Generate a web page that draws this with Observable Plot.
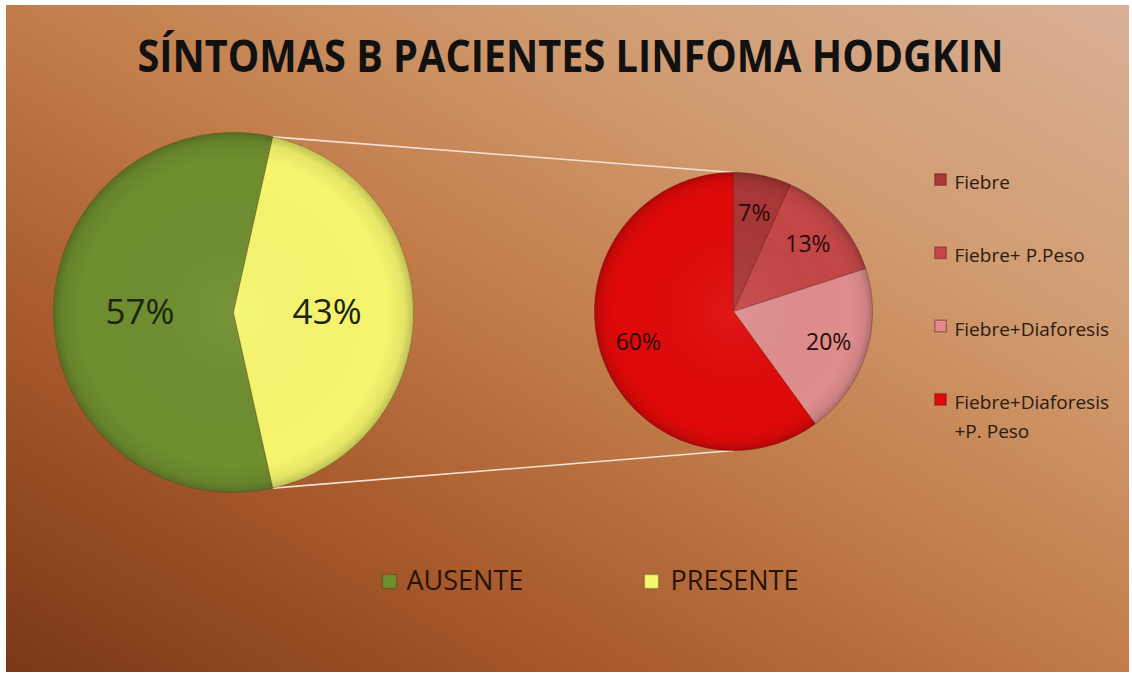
<!DOCTYPE html>
<html><head><meta charset="utf-8">
<script src="https://cdn.jsdelivr.net/npm/d3@7"></script>
<script src="https://cdn.jsdelivr.net/npm/@observablehq/plot@0.6"></script>
<style>
html,body{margin:0;padding:0;background:#fff;overflow:hidden;}
#frame{position:absolute;left:6px;top:5px;width:1123px;height:667px;
  background:linear-gradient(to top right,#7a3816 0%,#a4572a 25%,#c27c4a 50%,#d09a6e 72%,#d9b096 100%);}
#chart{position:absolute;left:0;top:0;}
</style></head><body>
<div id="frame"></div><div id="chart"></div>
<script>
// ---- data ----
const title = "SÍNTOMAS B PACIENTES LINFOMA HODGKIN";
const mainCategories = ["AUSENTE", "PRESENTE"];
const mainValues = [57, 43];
const mainColors = ["#6e8e2f", "#f6f66e"];
const subCategories = ["Fiebre", "Fiebre+ P.Peso", "Fiebre+Diaforesis", "Fiebre+Diaforesis\n+P. Peso"];
const subValues = [6.7, 13.3, 20, 60];
const subColors = ["#a93737", "#c44747", "#df8d8d", "#df0909"];

// ---- layout ----
const W = 1132, H = 675;
const L = {cx: 233, cy: 312, r: 180};
const R = {cx: 733, cy: 311, r: 139};
const FONT = "'Open Sans', 'Noto Sans', sans-serif";

const rad = a => a * Math.PI / 180;
const pt = (p, a, f = 1) => ({x: p.cx + p.r * f * Math.sin(rad(a)), y: p.cy - p.r * f * Math.cos(rad(a))});

function build(pie, cats, vals, cols, starts) {
  const total = d3.sum(vals);
  const slices = cats.map((c, i) => {
    const span = vals[i] / total * 360;
    return {key: c, value: vals[i], color: cols[i], a0: starts[i], a1: starts[i] + span};
  });
  const pts = [];
  for (const s of slices) {
    pts.push({key: s.key, color: s.color, x: pie.cx, y: pie.cy});
    const n = Math.max(2, Math.ceil(s.a1 - s.a0));
    for (let k = 0; k <= n; k++) {
      const p = pt(pie, s.a0 + (s.a1 - s.a0) * k / n);
      pts.push({key: s.key, color: s.color, ...p});
    }
    pts.push({key: s.key, color: s.color, x: pie.cx, y: pie.cy});
  }
  return {slices, pts};
}

// main pie: PRESENTE slice centered on the right (90°)
const mainTotal = d3.sum(mainValues);
const presSpan = mainValues[1] / mainTotal * 360;
const presStart = 90 - presSpan / 2;
const main = build(L, mainCategories, mainValues, mainColors, [presStart + presSpan, presStart]);

// sub pie: starts at top, clockwise
const subTotal = d3.sum(subValues);
const subStarts = subValues.map((v, i) => d3.sum(subValues.slice(0, i)) / subTotal * 360);
const sub = build(R, subCategories, subValues, subColors, subStarts);

// labels
const mainLabels = main.slices.map(s => ({text: Math.round(s.value) + "%", ...pt(L, (s.a0 + s.a1) / 2, 0.52)}));
const subLabels = sub.slices.map(s => ({text: Math.round(s.value) + "%", ...pt(R, (s.a0 + s.a1) / 2, 0.72)}));

// connectors
const pA = pt(L, presStart), pB = pt(L, presStart + presSpan);
const connectors = [
  {x1: pA.x, y1: pA.y, x2: R.cx, y2: R.cy - R.r},
  {x1: pB.x, y1: pB.y, x2: R.cx, y2: R.cy + R.r}
];

// legends
const subLegFont = 19, subLegLH = 1.55;
const subLegend = subCategories.map((c, i) => {
  const lines = c.split("\n").length;
  const y = 179 + i * 73.3;
  return {label: c, color: subColors[i], sx: 940, sy: y, tx: 954, ty: y + (lines - 1) * subLegFont * subLegLH / 2};
});
const mainLegend = mainCategories.map((c, i) => ({label: c, color: mainColors[i], sx: 389 + i * 262, sy: 581, tx: 406 + i * 264, ty: 581}));

const chart = Plot.plot({
  width: W, height: H, margin: 0,
  x: {domain: [0, W], range: [0, W], axis: null},
  y: {domain: [0, H], range: [0, H], axis: null},
  r: {type: "identity"},
  color: {type: "identity"},
  style: {background: "transparent", fontFamily: FONT},
  marks: [
    Plot.text([title], {x: () => 570, y: () => 57, text: d => d, fontSize: 45, fontWeight: 700, fill: "#111", fontFamily: FONT}),
    Plot.link(connectors, {x1: "x1", y1: "y1", x2: "x2", y2: "y2", stroke: "#f4e2d6", strokeWidth: 1.6}),
    Plot.line(main.pts, {x: "x", y: "y", z: "key", fill: "color", stroke: "#5a4010", strokeOpacity: 0.35, strokeWidth: 1, curve: "linear"}),
    Plot.line(sub.pts, {x: "x", y: "y", z: "key", fill: "color", stroke: "#5a1010", strokeOpacity: 0.35, strokeWidth: 1, curve: "linear"}),
    // bevel shading overlay on each pie
    Plot.dot([L, R], {x: "cx", y: "cy", r: "r", fill: "url(#bevel)", stroke: "none"}),
    Plot.text(mainLabels, {x: "x", y: "y", text: "text", fontSize: 35, fill: "#1c2410"}),
    Plot.text(subLabels, {x: "x", y: "y", text: "text", fontSize: 23, fill: "#2a0a0a"}),
    Plot.dot(subLegend, {x: "sx", y: "sy", symbol: "square", r: 6.5, fill: "color", stroke: "#6a1a1a", strokeOpacity: 0.4}),
    Plot.text(subLegend, {x: "tx", y: "ty", text: "label", textAnchor: "start", fontSize: subLegFont, lineHeight: subLegLH, fill: "#2a1a10"}),
    Plot.dot(mainLegend, {x: "sx", y: "sy", symbol: "square", r: 8, fill: "color", stroke: "#3a2a10", strokeOpacity: 0.3}),
    Plot.text(mainLegend, {x: "tx", y: "ty", text: "label", textAnchor: "start", fontSize: 27, fill: "#2a1208"})
  ]
});
// gradient definition for the bevel overlay
const defs = d3.select(chart).insert("defs", ":first-child");
const g = defs.append("radialGradient").attr("id", "bevel").attr("cx", "50%").attr("cy", "50%").attr("r", "50%");
g.append("stop").attr("offset", "0%").attr("stop-color", "#fff").attr("stop-opacity", 0.06);
g.append("stop").attr("offset", "85%").attr("stop-color", "#000").attr("stop-opacity", 0.0);
g.append("stop").attr("offset", "95%").attr("stop-color", "#000").attr("stop-opacity", 0.07);
g.append("stop").attr("offset", "100%").attr("stop-color", "#000").attr("stop-opacity", 0.22);
document.getElementById("chart").appendChild(chart);
d3.select(chart).selectAll("text").filter(function() { return this.textContent === title; })
  .attr("textLength", 866).attr("lengthAdjust", "spacingAndGlyphs");
</script>
</body></html>
